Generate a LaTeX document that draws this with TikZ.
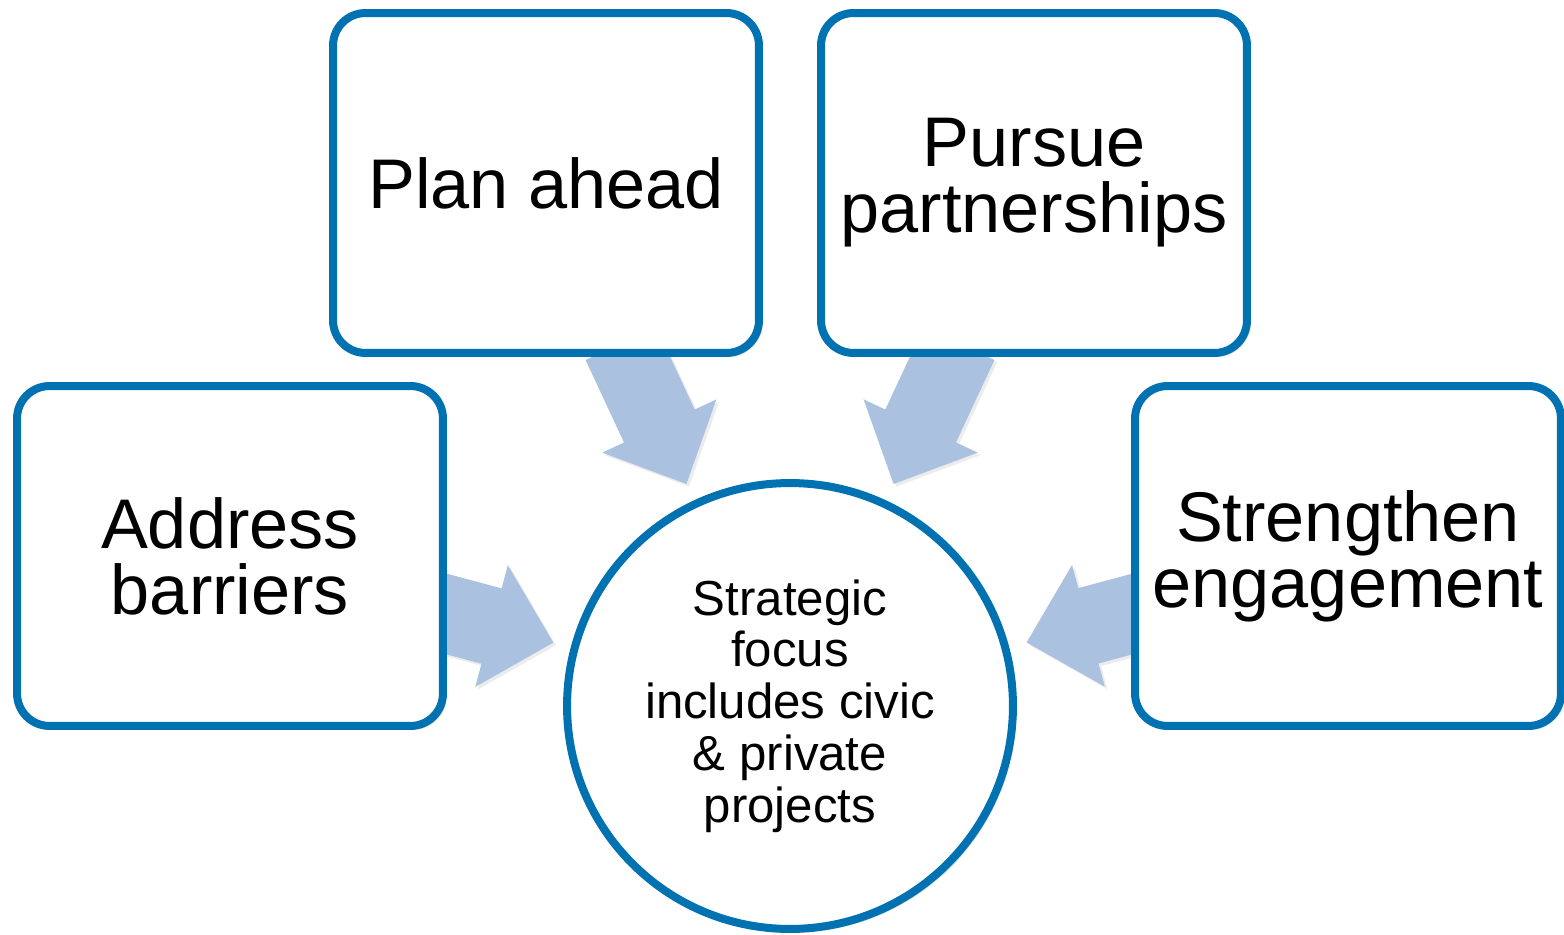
\documentclass[tikz,border=0pt]{standalone}
\usepackage{fontspec}
\setmainfont{Liberation Sans}
\usetikzlibrary{shadows,backgrounds}

\definecolor{ringblue}{RGB}{0,114,178}
\definecolor{feedblue}{RGB}{170,193,224}

\tikzset{
  softshadow/.style={drop shadow={shadow xshift=2pt, shadow yshift=-2pt, opacity=0.22, fill=black!60}},
  goal/.style={rectangle, draw=ringblue, fill=white, line width=0.16cm,
    rounded corners=0.65cm, minimum width=8.52cm, minimum height=6.8cm,
    align=center, font=\fontsize{40}{37.5}\selectfont, softshadow},
  hub/.style={circle, draw=ringblue, fill=white, line width=0.16cm,
    minimum size=8.92cm, inner sep=0pt, align=center,
    font=\fontsize{28}{29.5}\selectfont, softshadow},
  feed/.style={fill=feedblue, drop shadow={shadow xshift=1.5pt, shadow yshift=-1.5pt, opacity=0.12, fill=black!60}}
}

\begin{document}
\begin{tikzpicture}[x=0.02cm, y=0.02cm]
  \useasboundingbox (0,0) rectangle (1564,934);

  % Centre
  \node[hub] (focus) at (790,228) {Strategic\\focus\\includes civic\\\& private\\projects};

  % Boxes
  \node[goal] (barriers) at (230,378) {Address\\barriers};
  \node[goal] (plan) at (546,751) {Plan ahead};
  \node[goal] (partners) at (1034,751) {Pursue\\partnerships};
  \node[goal] (engage) at (1348,378) {Strengthen\\engagement};

  % Block arrows into the circle
  \begin{scope}[on background layer]
    \foreach \b in {barriers,plan,partners,engage} {
      \pgfmathanglebetweenpoints{\pgfpointanchor{focus}{center}}{\pgfpointanchor{\b}{center}}
      \let\ang\pgfmathresult
      \begin{scope}[shift={(focus.center)}, rotate=\ang]
        \path[feed] (245,0) -- (309,63) -- (309,39) -- (400,39)
          -- (400,-39) -- (309,-39) -- (309,-63) -- cycle;
      \end{scope}
    };
  \end{scope}
\end{tikzpicture}
\end{document}
